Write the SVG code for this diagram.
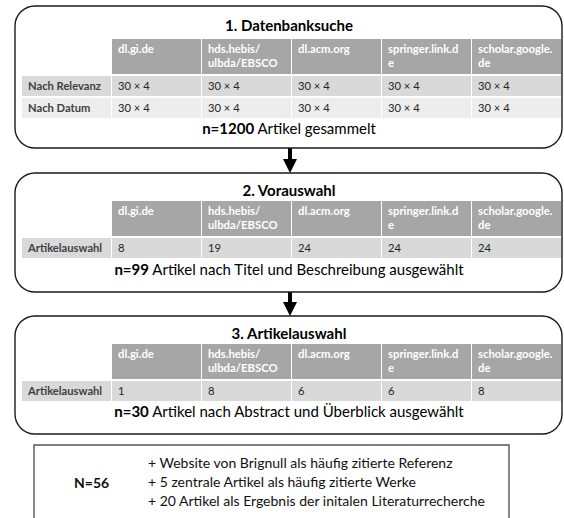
<svg xmlns="http://www.w3.org/2000/svg" width="564" height="518" viewBox="0 0 564 518">
<style>
text{font-family:Lato,"Liberation Sans",sans-serif;}
.box{fill:#fff;stroke:#1a1a1a;stroke-width:1.4;}
.title{font-size:15px;font-weight:bold;fill:#000;text-anchor:middle;}
.sum{font-size:15px;fill:#000;text-anchor:middle;}
.hd{fill:#a6a6a6;}
.hdt{font-size:11.3px;font-weight:bold;fill:#fff;}
.r1{fill:#d9d9d9;}
.r2{fill:#ededed;}
.lbl{font-size:11.2px;font-weight:bold;fill:#3f3f3f;}
.val{font-size:11.2px;fill:#262626;}
.fin{font-size:14px;fill:#111;}
</style>
<defs>
<marker id="ah" markerWidth="3.6" markerHeight="3.6" refX="1.6" refY="1.8" orient="auto" markerUnits="strokeWidth">
<path d="M0,0 L3.6,1.8 L0,3.6 z" fill="#000"/>
</marker>
</defs>

<g id="connectors">
<line x1="290" y1="148" x2="290" y2="165" stroke="#000" stroke-width="4" marker-end="url(#ah)"/>
<line x1="290" y1="292" x2="290" y2="308" stroke="#000" stroke-width="4" marker-end="url(#ah)"/>
</g>

<g id="datenbanksuche">
<rect class="box" x="15" y="6" width="547" height="142" rx="20"/>
<text class="title" x="289" y="31">1. Datenbanksuche</text>
<rect class="hd" x="112" y="39" width="89" height="35"/>
<rect class="hd" x="202" y="39" width="89" height="35"/>
<rect class="hd" x="292" y="39" width="89" height="35"/>
<rect class="hd" x="382" y="39" width="89" height="35"/>
<rect class="hd" x="472" y="39" width="89" height="35"/>
<text class="hdt" x="118" y="53">dl.gi.de</text>
<text class="hdt" x="208" y="53">hds.hebis/</text>
<text class="hdt" x="208" y="67">ulbda/EBSCO</text>
<text class="hdt" x="298" y="53">dl.acm.org</text>
<text class="hdt" x="388" y="53">springer.link.d</text>
<text class="hdt" x="388" y="67">e</text>
<text class="hdt" x="478" y="53">scholar.google.</text>
<text class="hdt" x="478" y="67">de</text>
<rect class="r1" x="22" y="76" width="89" height="20"/>
<rect class="r1" x="112" y="76" width="89" height="20"/>
<rect class="r1" x="202" y="76" width="89" height="20"/>
<rect class="r1" x="292" y="76" width="89" height="20"/>
<rect class="r1" x="382" y="76" width="89" height="20"/>
<rect class="r1" x="472" y="76" width="89" height="20"/>
<rect class="r2" x="22" y="98" width="89" height="20"/>
<rect class="r2" x="112" y="98" width="89" height="20"/>
<rect class="r2" x="202" y="98" width="89" height="20"/>
<rect class="r2" x="292" y="98" width="89" height="20"/>
<rect class="r2" x="382" y="98" width="89" height="20"/>
<rect class="r2" x="472" y="98" width="89" height="20"/>
<text class="lbl" x="28" y="90">Nach Relevanz</text>
<text class="lbl" x="28" y="112">Nach Datum</text>
<text class="val" x="118" y="90">30 × 4</text>
<text class="val" x="208" y="90">30 × 4</text>
<text class="val" x="298" y="90">30 × 4</text>
<text class="val" x="388" y="90">30 × 4</text>
<text class="val" x="478" y="90">30 × 4</text>
<text class="val" x="118" y="112">30 × 4</text>
<text class="val" x="208" y="112">30 × 4</text>
<text class="val" x="298" y="112">30 × 4</text>
<text class="val" x="388" y="112">30 × 4</text>
<text class="val" x="478" y="112">30 × 4</text>
<text class="sum" x="289" y="134"><tspan font-weight="bold">n=1200</tspan> Artikel gesammelt</text>
</g>

<g id="vorauswahl">
<rect class="box" x="15" y="173" width="547" height="119" rx="20"/>
<text class="title" x="289" y="196">2. Vorauswahl</text>
<rect class="hd" x="112" y="201" width="89" height="35"/>
<rect class="hd" x="202" y="201" width="89" height="35"/>
<rect class="hd" x="292" y="201" width="89" height="35"/>
<rect class="hd" x="382" y="201" width="89" height="35"/>
<rect class="hd" x="472" y="201" width="89" height="35"/>
<text class="hdt" x="118" y="215">dl.gi.de</text>
<text class="hdt" x="208" y="215">hds.hebis/</text>
<text class="hdt" x="208" y="229">ulbda/EBSCO</text>
<text class="hdt" x="298" y="215">dl.acm.org</text>
<text class="hdt" x="388" y="215">springer.link.d</text>
<text class="hdt" x="388" y="229">e</text>
<text class="hdt" x="478" y="215">scholar.google.</text>
<text class="hdt" x="478" y="229">de</text>
<rect class="r1" x="22" y="238" width="89" height="20"/>
<rect class="r1" x="112" y="238" width="89" height="20"/>
<rect class="r1" x="202" y="238" width="89" height="20"/>
<rect class="r1" x="292" y="238" width="89" height="20"/>
<rect class="r1" x="382" y="238" width="89" height="20"/>
<rect class="r1" x="472" y="238" width="89" height="20"/>
<text class="lbl" x="28" y="252">Artikelauswahl</text>
<text class="val" x="118" y="252">8</text>
<text class="val" x="208" y="252">19</text>
<text class="val" x="298" y="252">24</text>
<text class="val" x="388" y="252">24</text>
<text class="val" x="478" y="252">24</text>
<text class="sum" x="289" y="275"><tspan font-weight="bold">n=99</tspan> Artikel nach Titel und Beschreibung ausgewählt</text>
</g>

<g id="artikelauswahl">
<rect class="box" x="15" y="316" width="547" height="118" rx="20"/>
<text class="title" x="289" y="339">3. Artikelauswahl</text>
<rect class="hd" x="112" y="344" width="89" height="35"/>
<rect class="hd" x="202" y="344" width="89" height="35"/>
<rect class="hd" x="292" y="344" width="89" height="35"/>
<rect class="hd" x="382" y="344" width="89" height="35"/>
<rect class="hd" x="472" y="344" width="89" height="35"/>
<text class="hdt" x="118" y="358">dl.gi.de</text>
<text class="hdt" x="208" y="358">hds.hebis/</text>
<text class="hdt" x="208" y="372">ulbda/EBSCO</text>
<text class="hdt" x="298" y="358">dl.acm.org</text>
<text class="hdt" x="388" y="358">springer.link.d</text>
<text class="hdt" x="388" y="372">e</text>
<text class="hdt" x="478" y="358">scholar.google.</text>
<text class="hdt" x="478" y="372">de</text>
<rect class="r1" x="22" y="381" width="89" height="20"/>
<rect class="r1" x="112" y="381" width="89" height="20"/>
<rect class="r1" x="202" y="381" width="89" height="20"/>
<rect class="r1" x="292" y="381" width="89" height="20"/>
<rect class="r1" x="382" y="381" width="89" height="20"/>
<rect class="r1" x="472" y="381" width="89" height="20"/>
<text class="lbl" x="28" y="395">Artikelauswahl</text>
<text class="val" x="118" y="395">1</text>
<text class="val" x="208" y="395">8</text>
<text class="val" x="298" y="395">6</text>
<text class="val" x="388" y="395">6</text>
<text class="val" x="478" y="395">8</text>
<text class="sum" x="289" y="417"><tspan font-weight="bold">n=30</tspan> Artikel nach Abstract und Überblick ausgewählt</text>
</g>

<g id="ergebnis">
<path d="M34,520 V445 H509 V520" fill="none" stroke="#555" stroke-width="1.4"/>
<text x="74" y="488" font-size="14" font-weight="bold" fill="#111">N=56</text>
<text class="fin" x="148" y="468">+ Website von Brignull als häufig zitierte Referenz</text>
<text class="fin" x="148" y="487">+ 5 zentrale Artikel als häufig zitierte Werke</text>
<text class="fin" x="148" y="506">+ 20 Artikel als Ergebnis der initalen Literaturrecherche</text>
</g>
</svg>
